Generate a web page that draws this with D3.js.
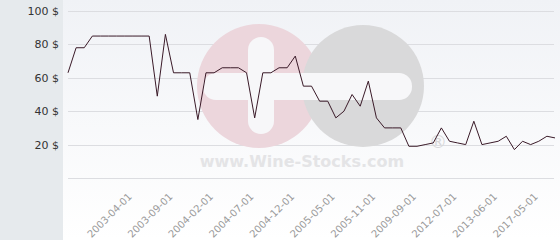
<!DOCTYPE html>
<html>
<head>
<meta charset="utf-8">
<script src="https://cdn.jsdelivr.net/npm/d3@7"></script>
<style>
  body { margin: 0; background: #fff; }
  svg { display: block; font-family: "DejaVu Sans", sans-serif; }
</style>
</head>
<body>
<div id="chart-area"><svg></svg></div>
<script>
const CHART_SIZE = { width: 560, height: 240 };
const PANEL_WIDTH = 63;
const MARGIN = { left: 68, right: 5, top: 11, bottom: 62 };
const WIDTH = CHART_SIZE.width - (MARGIN.left + MARGIN.right);
const HEIGHT = CHART_SIZE.height - (MARGIN.top + MARGIN.bottom);

// price per point, in $
const prices = [
  63, 78, 78, 85, 85, 85, 85, 85, 85, 85, 85, 49, 86, 63, 63, 63, 35, 63, 63, 66,
  66, 66, 63, 36, 63, 63, 66, 66, 73, 55, 55, 46, 46, 36, 40, 50, 43, 58, 36, 30,
  30, 30, 19, 19, 20, 21, 30, 22, 21, 20, 34, 20, 21, 22, 25, 17, 22, 20, 22, 25,
  24
];

const tickLabels = [
  "2003-04-01", "2003-09-01", "2004-02-01", "2004-07-01", "2004-12-01",
  "2005-05-01", "2005-11-01", "2009-09-01", "2012-07-01", "2013-06-01",
  "2017-05-01"
];
// point index that each tick label belongs to
const tickIndex = [8, 13, 18, 23, 28, 33, 38, 43, 48, 53, 58];

const yTicks = [20, 40, 60, 80, 100];

const drawBackground = (svg) => {
  const grad = svg.append("defs").append("linearGradient")
    .attr("id", "bg").attr("x1", 0).attr("y1", 0).attr("x2", 0).attr("y2", 1);
  grad.append("stop").attr("offset", "0%").attr("stop-color", "#f0f2f6");
  grad.append("stop").attr("offset", "100%").attr("stop-color", "#ffffff");

  svg.append("rect")
    .attr("x", PANEL_WIDTH).attr("y", 0)
    .attr("width", CHART_SIZE.width - PANEL_WIDTH).attr("height", CHART_SIZE.height)
    .attr("fill", "url(#bg)");

  svg.append("rect")
    .attr("x", 0).attr("y", 0)
    .attr("width", PANEL_WIDTH).attr("height", CHART_SIZE.height)
    .attr("fill", "#e6eaed");
};

// the wine-stocks logo behind the line
const drawWatermark = (svg) => {
  const w = svg.append("g").attr("class", "watermark");
  w.append("circle").attr("cx", 259).attr("cy", 86).attr("r", 62).attr("fill", "#ecd6dc");
  w.append("circle").attr("cx", 363).attr("cy", 86).attr("r", 61).attr("fill", "#d9d9da");
  w.append("rect").attr("x", 248).attr("y", 37).attr("width", 26).attr("height", 97)
    .attr("rx", 13).attr("fill", "#f7f7f9");
  w.append("rect").attr("x", 203).attr("y", 73).attr("width", 209).attr("height", 27)
    .attr("rx", 13).attr("fill", "#f7f7f9");
  w.append("text").attr("x", 302).attr("y", 167)
    .attr("text-anchor", "middle")
    .attr("font-size", 16).attr("font-weight", "bold")
    .attr("fill", "#e4e4e6")
    .text("www.Wine-Stocks.com");
  w.append("text").attr("x", 438).attr("y", 148)
    .attr("text-anchor", "middle")
    .attr("font-size", 18)
    .attr("fill", "#d6d6d8")
    .text("®");
};

const main = () => {
  const svg = d3.select("#chart-area svg")
    .attr("width", CHART_SIZE.width)
    .attr("height", CHART_SIZE.height);

  drawBackground(svg);

  const x = d3.scalePoint()
    .domain(d3.range(prices.length))
    .range([MARGIN.left, MARGIN.left + WIDTH]);

  const y = d3.scaleLinear()
    .domain([0, 100])
    .range([MARGIN.top + HEIGHT, MARGIN.top]);

  // grid lines
  svg.append("g")
    .attr("class", "grid")
    .selectAll("line")
    .data([0, ...yTicks])
    .join("line")
    .attr("x1", MARGIN.left)
    .attr("x2", MARGIN.left + WIDTH - 1)
    .attr("y1", d => Math.round(y(d)) + 0.5)
    .attr("y2", d => Math.round(y(d)) + 0.5)
    .attr("stroke", "#dcdde1");

  drawWatermark(svg);

  // y axis labels
  const yAxis = d3.axisLeft(y).tickValues(yTicks).tickSize(0).tickPadding(0)
    .tickFormat(d => `${d} $`);
  svg.append("g")
    .attr("class", "y-axis")
    .attr("transform", `translate(${PANEL_WIDTH - 4},0)`)
    .call(yAxis)
    .call(g => g.select(".domain").remove())
    .selectAll("text")
    .attr("font-size", 11)
    .attr("font-family", "DejaVu Sans, sans-serif")
    .attr("fill", "#333");

  // x axis labels
  const xAxis = d3.axisBottom(x).tickValues(tickIndex).tickSize(0)
    .tickFormat((d, i) => tickLabels[i]);
  svg.append("g")
    .attr("class", "x-axis")
    .attr("transform", `translate(0,${MARGIN.top + HEIGHT})`)
    .call(xAxis)
    .call(g => g.select(".domain").remove())
    .selectAll("text")
    .attr("font-size", 10)
    .attr("font-family", "DejaVu Sans, sans-serif")
    .attr("fill", "#9a9a9a")
    .attr("text-anchor", "end")
    .attr("dy", 0)
    .attr("transform", "translate(-3,17) rotate(-45)");

  const line = d3.line()
    .x((d, i) => x(i))
    .y(d => y(d));

  svg.append("path")
    .attr("class", "price")
    .attr("d", line(prices))
    .attr("fill", "none")
    .attr("stroke", "#3a1a28")
    .attr("stroke-width", 1);
};

window.onload = main;
</script>
</body>
</html>
